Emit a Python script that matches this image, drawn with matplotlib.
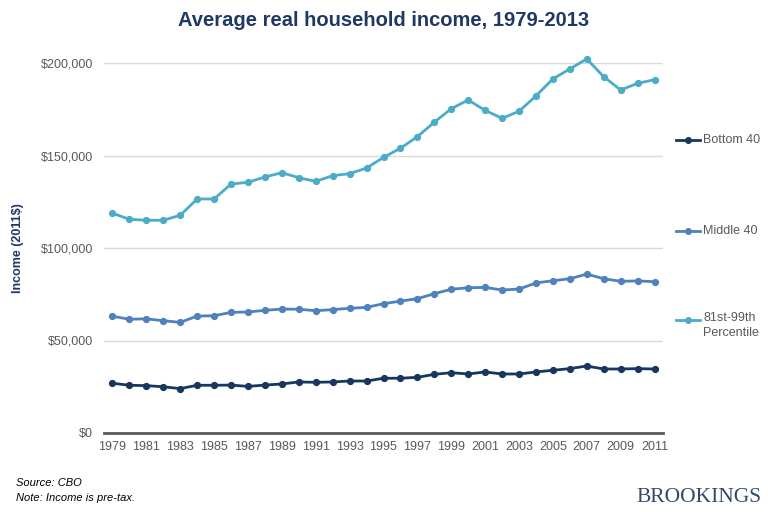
import matplotlib
matplotlib.use("Agg")
import matplotlib.pyplot as plt
from matplotlib.lines import Line2D
from matplotlib.ticker import FuncFormatter

years = list(range(1979, 2012))
bottom40 = [26.9, 25.8, 25.6, 25.0, 24.0, 25.8, 25.8, 25.9, 25.2, 25.9, 26.5,
            27.6, 27.4, 27.6, 28.1, 28.1, 29.6, 29.6, 30.1, 31.7, 32.6, 31.9,
            33.0, 31.9, 31.9, 33.0, 33.9, 34.8, 36.2, 34.6, 34.6, 34.8, 34.6]
middle40 = [63.1, 61.5, 61.7, 60.7, 59.8, 63.2, 63.4, 65.2, 65.4, 66.3, 67.0,
            66.9, 66.1, 66.7, 67.4, 67.9, 69.9, 71.3, 72.6, 75.3, 77.7, 78.5,
            78.7, 77.3, 77.8, 81.1, 82.3, 83.4, 85.9, 83.4, 82.0, 82.2, 81.8]
top81_99 = [118.8, 115.5, 115.0, 115.0, 117.7, 126.5, 126.5, 134.6, 135.5, 138.4, 140.7,
            138.0, 136.0, 139.1, 140.2, 143.2, 149.0, 153.9, 160.2, 168.0, 175.3, 180.0,
            174.4, 170.1, 173.9, 182.2, 191.4, 196.8, 202.2, 192.6, 185.4, 189.0, 191.0]
series_names = ["Bottom 40", "Middle 40", "81st-99th\nPercentile"]
series_values = [bottom40, middle40, top81_99]
colors = ["#17375e", "#4f81bd", "#4bacc6"]
yticks = [0, 50000, 100000, 150000, 200000]
xticks = list(range(1979, 2012, 2))

plt.rcParams['font.family'] = ['Liberation Sans', 'DejaVu Sans']

fig = plt.figure(figsize=(7.68, 5.12), dpi=100)
ax = fig.add_axes([104/768, 1 - 433/512, (663-104)/768, (433-63)/512])

for vals, c in zip(series_values, colors):
    ax.plot(years, [v * 1000 for v in vals], color=c, lw=2, marker='o', ms=4.2,
            clip_on=False, zorder=3)

ax.set_xlim(1978.5, 2011.5)
ax.set_ylim(0, 200000)
ax.set_yticks(yticks)
ax.yaxis.set_major_formatter(FuncFormatter(lambda v, p: "$0" if v == 0 else "${:,.0f}".format(v)))
ax.set_xticks(xticks)
ax.set_xticklabels([str(x) for x in xticks])
ax.grid(axis='y', color='#d9d9d9', lw=1)
ax.set_axisbelow(True)
for s in ['top', 'right', 'left']:
    ax.spines[s].set_visible(False)
ax.spines['bottom'].set_color('#595959')
ax.spines['bottom'].set_linewidth(2)
ax.tick_params(axis='both', length=0, labelsize=9, colors='#595959', pad=8)
ax.tick_params(axis='x', pad=6)

ax.set_ylabel("Income (2011$)", fontsize=9, fontweight='bold', color='#1f3864', labelpad=12)

fig.text(0.5, 1 - 20/512, "Average real household income, 1979-2013", ha='center', va='center',
         fontsize=14.5, fontweight='bold', color='#1f3864')

# legend
leg_y = [140, 231, 320]
for name, c, yp in zip(series_names, colors, leg_y):
    yf = 1 - yp / 512
    fig.add_artist(Line2D([676/768, 700/768], [yf, yf], color=c, lw=2, transform=fig.transFigure))
    fig.add_artist(Line2D([688/768], [yf], color=c, marker='o', ms=4, transform=fig.transFigure))
    if '\n' in name:
        fig.text(703/768, 1 - (yp - 8) / 512, name, ha='left', va='top', fontsize=9,
                 color='#595959', linespacing=1.35)
    else:
        fig.text(703/768, yf, name, ha='left', va='center', fontsize=9, color='#595959')

fig.text(16/768, 1 - 483/512, "Source: CBO", fontsize=8, style='italic', va='center', color='black')
fig.text(16/768, 1 - 498/512, "Note: Income is pre-tax.", fontsize=8, style='italic', va='center', color='black')
fig.text(762/768, 1 - 497/512, "BROOKINGS", fontsize=15.5, family=['Liberation Serif', 'DejaVu Serif'],
         ha='right', va='center', color='#34496a')

fig.savefig("out.png", dpi=100, facecolor='white')
